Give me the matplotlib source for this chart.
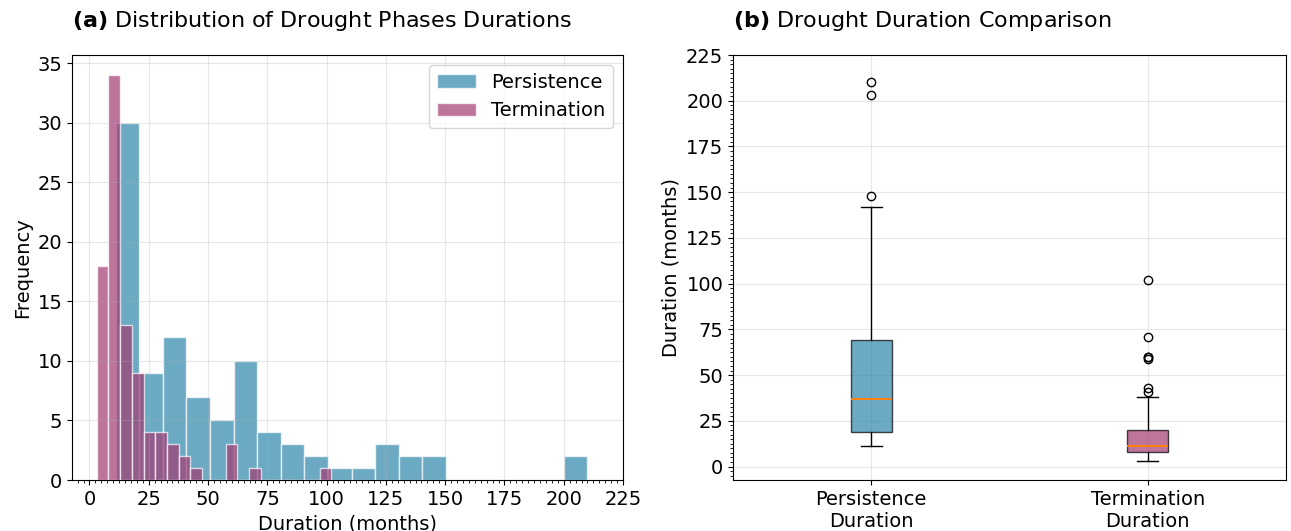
import matplotlib
matplotlib.use('Agg')
import matplotlib.pyplot as plt
from matplotlib.ticker import AutoMinorLocator

# Drought phase durations in months, one value per drought event
persistence = [11, 12, 12, 13, 13, 14, 14, 14, 15, 15, 15, 16, 16, 16,
               17, 17, 17, 17, 18, 18, 18, 18, 19, 19, 19, 19, 20, 20, 20, 20,
               21, 22, 23, 24, 25, 26, 27, 28, 30,
               31, 32, 33, 34, 35, 36, 36, 37, 38, 39, 39, 40,
               42, 43, 44, 45, 47, 48, 50,
               52, 54, 56, 58, 60,
               61, 62, 63, 64, 66, 67, 69, 69, 70, 70,
               72, 74, 77, 79,
               82, 85, 89,
               93, 98,
               105, 116,
               122, 125, 128,
               133, 137,
               142, 148,
               203, 210]

termination = [3, 4, 4, 5, 5, 5, 6, 6, 6, 6, 6, 7, 7, 7, 7, 7, 7, 7,
               8, 8, 8, 8, 8, 8, 8, 8, 9, 9, 9, 9, 9, 9, 9,
               10, 10, 10, 10, 10, 10, 10, 11, 11, 11, 11, 11, 11, 11,
               12, 12, 12, 12, 12,
               13, 13, 13, 14, 14, 14, 15, 15, 15, 16, 16, 17, 17,
               18, 18, 19, 19, 20, 20, 21, 21, 22,
               23, 24, 26, 27,
               28, 29, 30, 32,
               33, 35, 37,
               38, 41,
               43,
               59, 60, 60,
               71,
               102]

series_names = ['Persistence', 'Termination']
box_labels = ['Persistence\nDuration', 'Termination\nDuration']
colors = ['#2E86AB', '#A23B72']

plt.rcParams['font.size'] = 14

fig = plt.figure(figsize=(12.91, 5.31), dpi=100)
ax1 = fig.add_axes([0.0558, 0.096, 0.4268, 0.8004])
ax2 = fig.add_axes([0.5678, 0.096, 0.4283, 0.8004])

# (a) histograms of both phases
ax1.hist(persistence, bins=20, alpha=0.7, color=colors[0], edgecolor='white', label=series_names[0])
ax1.hist(termination, bins=20, alpha=0.7, color=colors[1], edgecolor='white', label=series_names[1])
ax1.set_xticks(range(0, 226, 25))
ax1.xaxis.set_minor_locator(AutoMinorLocator(10))
ax1.set_xlabel('Duration (months)')
ax1.set_ylabel('Frequency')
ax1.set_title(r'$\bf{(a)}$ Distribution of Drought Phases Durations', loc='left', pad=20, fontsize=16)
ax1.legend(loc='upper right')
ax1.grid(True, alpha=0.3)

# (b) box plots
bp = ax2.boxplot([persistence, termination], widths=0.15, patch_artist=True, tick_labels=box_labels)
for patch, c in zip(bp['boxes'], colors):
    patch.set_facecolor(c)
    patch.set_alpha(0.7)
for med in bp['medians']:
    med.set_color('#ff7f0e')
    med.set_linewidth(1.5)
    med.set_zorder(3)
ax2.set_yticks(range(0, 226, 25))
ax2.yaxis.set_minor_locator(AutoMinorLocator(10))
ax2.set_ylabel('Duration (months)')
ax2.set_title(r'$\bf{(b)}$ Drought Duration Comparison', loc='left', pad=20, fontsize=16)
ax2.grid(True, alpha=0.3)

fig.savefig('out.png', dpi=100)
